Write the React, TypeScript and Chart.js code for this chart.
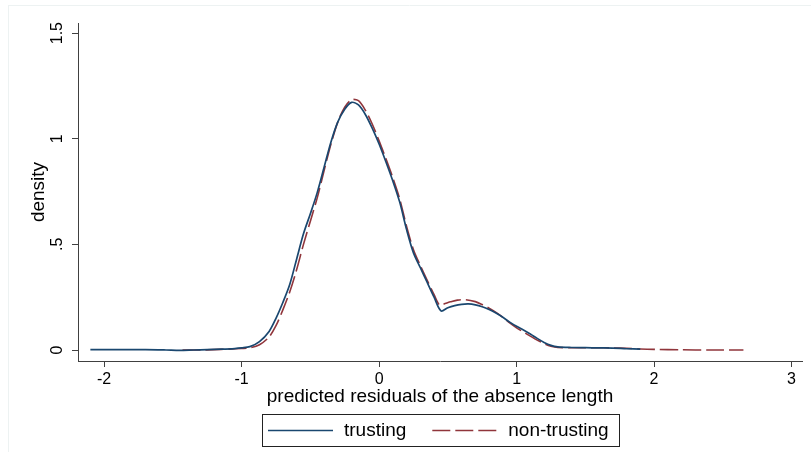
import { useEffect, useRef } from "react";
import { Chart, registerables } from "chart.js";

Chart.register(...registerables);

const seriesLabels = ["trusting", "non-trusting"];

const trustingX = [-2.1, -1.9, -1.7, -1.55, -1.45, -1.35, -1.25, -1.15, -1.05, -1.0, -0.94, -0.87, -0.8, -0.75, -0.7, -0.65, -0.6, -0.55, -0.5, -0.45, -0.4, -0.35, -0.3, -0.25, -0.2, -0.15, -0.1, -0.05, 0.0, 0.05, 0.1, 0.15, 0.2, 0.25, 0.3, 0.35, 0.4, 0.45, 0.5, 0.55, 0.6, 0.65, 0.7, 0.75, 0.8, 0.85, 0.9, 0.95, 1.0, 1.05, 1.1, 1.15, 1.2, 1.25, 1.3, 1.4, 1.5, 1.6, 1.7, 1.8, 1.9];
const trustingY = [0.002, 0.002, 0.002, 0.0, -0.002, 0.0, 0.002, 0.004, 0.007, 0.01, 0.016, 0.04, 0.088, 0.15, 0.225, 0.31, 0.43, 0.55, 0.645, 0.745, 0.865, 0.985, 1.08, 1.14, 1.172, 1.16, 1.115, 1.05, 0.975, 0.89, 0.8, 0.7, 0.57, 0.46, 0.39, 0.32, 0.25, 0.185, 0.2, 0.21, 0.216, 0.218, 0.214, 0.205, 0.192, 0.175, 0.155, 0.132, 0.112, 0.095, 0.076, 0.055, 0.036, 0.022, 0.015, 0.012, 0.011, 0.01, 0.009, 0.006, 0.004];

const nonTrustingX = [-1.43, -1.3, -1.2, -1.1, -1.0, -0.94, -0.87, -0.8, -0.75, -0.7, -0.65, -0.6, -0.55, -0.5, -0.45, -0.4, -0.35, -0.3, -0.25, -0.2, -0.15, -0.1, -0.05, 0.0, 0.05, 0.1, 0.15, 0.2, 0.25, 0.3, 0.35, 0.4, 0.44, 0.48, 0.52, 0.57, 0.63, 0.7, 0.75, 0.8, 0.85, 0.9, 0.95, 1.0, 1.05, 1.1, 1.15, 1.2, 1.25, 1.3, 1.4, 1.5, 1.6, 1.7, 1.8, 1.9, 2.0, 2.2, 2.4, 2.65];
const nonTrustingY = [0.0, 0.0, 0.002, 0.004, 0.007, 0.01, 0.025, 0.062, 0.115, 0.19, 0.275, 0.38, 0.5, 0.61, 0.72, 0.85, 0.975, 1.08, 1.15, 1.185, 1.18, 1.135, 1.07, 0.99, 0.905, 0.815, 0.715, 0.585, 0.475, 0.4, 0.33, 0.262, 0.213, 0.22, 0.228, 0.236, 0.238, 0.229, 0.215, 0.198, 0.178, 0.155, 0.128, 0.105, 0.085, 0.066, 0.047, 0.03, 0.018, 0.012, 0.011, 0.011, 0.011, 0.01, 0.008, 0.005, 0.003, 0.001, 0.0, 0.0];

const xTicks = [-2, -1, 0, 1, 2, 3];
const yTicks = [0, 0.5, 1, 1.5];
const yTickLabels = ["0", ".5", "1", "1.5"];

const xTitle = "predicted residuals of the absence length";
const yTitle = "density";

const FONT = '"Liberation Sans", Arial, Helvetica, sans-serif';
const AXIS_COLOR = "#404040";

const framePlugin = {
  id: "faintFrame",
  beforeDraw(chart: any) {
    const ctx = chart.ctx;
    ctx.save();
    ctx.strokeStyle = "#edf2f2";
    ctx.lineWidth = 1;
    ctx.beginPath();
    ctx.moveTo(8, 5.5);
    ctx.lineTo(chart.width, 5.5);
    ctx.moveTo(8.5, 5);
    ctx.lineTo(8.5, chart.height);
    ctx.stroke();
    ctx.restore();
  },
};

const yLabelPlugin = {
  id: "rotatedYLabels",
  afterDraw(chart: any) {
    const ctx = chart.ctx;
    const scale = chart.scales.y;
    ctx.save();
    ctx.fillStyle = "#000";
    ctx.font = `16px ${FONT}`;
    ctx.textAlign = "center";
    ctx.textBaseline = "middle";
    yTicks.forEach((v, i) => {
      const py = scale.getPixelForValue(v);
      ctx.save();
      ctx.translate(scale.right - 20, py);
      ctx.rotate(-Math.PI / 2);
      ctx.fillText(yTickLabels[i], 0, 0);
      ctx.restore();
    });
    ctx.restore();
  },
};

const boxLegendPlugin = {
  id: "boxLegend",
  afterDraw(chart: any) {
    const ctx = chart.ctx;
    const area = chart.chartArea;
    const cx = (area.left + area.right) / 2;
    const top = chart.height - 38;
    const h = 32;
    const cy = top + h / 2;
    const sample = 65;
    const gapText = 11;
    const gapItem = 26;
    const pad = 6;
    ctx.save();
    ctx.font = `19px ${FONT}`;
    const items = chart.data.datasets.map((ds: any) => ({
      label: ds.label,
      color: ds.borderColor,
      dash: ds.borderDash || [],
      width: ds.borderWidth,
      tw: ctx.measureText(ds.label).width,
    }));
    let content = 0;
    items.forEach((it: any, i: number) => {
      content += sample + gapText + it.tw + (i ? gapItem : 0);
    });
    const boxW = Math.round(content + 2 * pad + 4);
    const left = Math.round(cx - boxW / 2);
    ctx.strokeStyle = "#222";
    ctx.lineWidth = 1;
    ctx.setLineDash([]);
    ctx.strokeRect(left + 0.5, top + 0.5, boxW, h);
    let x = left + pad;
    items.forEach((it: any) => {
      ctx.save();
      ctx.strokeStyle = it.color;
      ctx.lineWidth = it.width;
      ctx.setLineDash(it.dash);
      ctx.beginPath();
      ctx.moveTo(x, cy + 0.5);
      ctx.lineTo(x + sample, cy + 0.5);
      ctx.stroke();
      ctx.restore();
      x += sample + gapText;
      ctx.fillStyle = "#000";
      ctx.textAlign = "left";
      ctx.textBaseline = "middle";
      ctx.fillText(it.label, x, cy + 1);
      x += it.tw + gapItem;
    });
    ctx.restore();
  },
};

export default function App() {
  const ref = useRef<HTMLCanvasElement | null>(null);

  useEffect(() => {
    if (!ref.current) return;
    const chart = new Chart(ref.current, {
      type: "line",
      data: {
        datasets: [
          {
            label: seriesLabels[0],
            data: trustingX.map((x, i) => ({ x, y: trustingY[i] })),
            borderColor: "#1a476f",
            borderWidth: 1.7,
            pointRadius: 0,
            tension: 0.3,
            fill: false,
          },
          {
            label: seriesLabels[1],
            data: nonTrustingX.map((x, i) => ({ x, y: nonTrustingY[i] })),
            borderColor: "#90353b",
            borderWidth: 1.6,
            borderDash: [18, 5],
            pointRadius: 0,
            tension: 0.3,
            fill: false,
          },
        ],
      },
      options: {
        animation: false,
        responsive: false,
        events: [],
        layout: { padding: { left: 8, top: 23, right: 9, bottom: 43 } },
        plugins: {
          legend: { display: false },
          tooltip: { enabled: false },
        },
        scales: {
          x: {
            type: "linear",
            min: -2.19,
            max: 3.076,
            afterBuildTicks: (s: any) => {
              s.ticks = xTicks.map((v) => ({ value: v }));
            },
            afterFit: (s: any) => {
              s.height = 48;
            },
            grid: {
              drawOnChartArea: false,
              drawTicks: true,
              tickLength: 6,
              color: AXIS_COLOR,
              lineWidth: 1,
            },
            border: { display: true, color: AXIS_COLOR, width: 1 },
            ticks: {
              color: "#000",
              font: { family: FONT, size: 16 },
              padding: 3,
              maxRotation: 0,
              minRotation: 0,
              callback: (v: any) => String(v),
            },
            title: {
              display: true,
              text: xTitle,
              color: "#000",
              font: { family: FONT, size: 19 },
              padding: { top: 0, bottom: 1 },
            },
          },
          y: {
            type: "linear",
            min: -0.052,
            max: 1.548,
            afterBuildTicks: (s: any) => {
              s.ticks = yTicks.map((v) => ({ value: v }));
            },
            afterFit: (s: any) => {
              s.width = 70;
            },
            grid: {
              drawOnChartArea: false,
              drawTicks: true,
              tickLength: 6,
              color: AXIS_COLOR,
              lineWidth: 1,
            },
            border: { display: true, color: AXIS_COLOR, width: 1 },
            ticks: { display: false },
            title: {
              display: true,
              text: yTitle,
              color: "#000",
              font: { family: FONT, size: 19 },
              padding: { top: 19, bottom: 0 },
            },
          },
        },
      },
      plugins: [framePlugin, yLabelPlugin, boxLegendPlugin],
    });
    return () => chart.destroy();
  }, []);

  return (
    <div style={{ position: "absolute", left: 0, top: 0, width: 811, height: 452, background: "#fff" }}>
      <canvas ref={ref} width={811} height={452} style={{ display: "block" }} />
    </div>
  );
}
